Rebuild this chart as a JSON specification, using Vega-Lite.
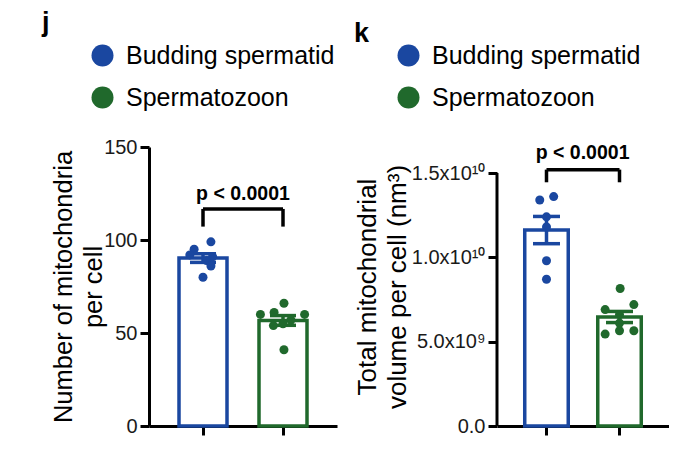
{
  "$schema": "https://vega.github.io/schema/vega-lite/v6.json",
  "background": "white",
  "padding": {"left": 42, "top": 9, "right": 0, "bottom": 0},
  "config": {
    "font": "Liberation Sans",
    "view": {"stroke": null},
    "axis": {"domainColor": "black", "domainWidth": 3, "tickColor": "black", "tickWidth": 3, "tickSize": 9, "labelFontSize": 20, "labelColor": "#1a1a1a", "labelFont": "Liberation Sans", "titleFont": "Liberation Sans", "titleFontSize": 25.5, "titleFontWeight": "normal", "titleColor": "black", "grid": false, "labelPadding": 3},
    "legend": {"labelLimit": 0, "padding": 0},
    "title": {"font": "Liberation Sans"}
  },
  "datasets": {
    "j": [
      {"group": "Budding spermatid", "value": 99, "spread": 0.33},
      {"group": "Budding spermatid", "value": 95, "spread": -0.37},
      {"group": "Budding spermatid", "value": 92, "spread": -0.55},
      {"group": "Budding spermatid", "value": 91, "spread": 0.4},
      {"group": "Budding spermatid", "value": 89, "spread": 0.15},
      {"group": "Budding spermatid", "value": 86, "spread": 0.33},
      {"group": "Budding spermatid", "value": 80, "spread": 0},
      {"group": "Spermatozoon", "value": 66, "spread": 0.04},
      {"group": "Spermatozoon", "value": 61, "spread": -0.37},
      {"group": "Spermatozoon", "value": 60, "spread": -0.94},
      {"group": "Spermatozoon", "value": 60, "spread": 0.9},
      {"group": "Spermatozoon", "value": 57, "spread": 0.33},
      {"group": "Spermatozoon", "value": 55, "spread": 0},
      {"group": "Spermatozoon", "value": 54, "spread": -0.4},
      {"group": "Spermatozoon", "value": 41, "spread": 0.04}
    ],
    "k": [
      {"group": "Budding spermatid", "value": 13400000000, "spread": -0.31},
      {"group": "Budding spermatid", "value": 13600000000, "spread": 0.33},
      {"group": "Budding spermatid", "value": 12400000000, "spread": 0},
      {"group": "Budding spermatid", "value": 11800000000, "spread": 0},
      {"group": "Budding spermatid", "value": 9800000000, "spread": 0},
      {"group": "Budding spermatid", "value": 8700000000, "spread": 0},
      {"group": "Spermatozoon", "value": 8150000000, "spread": 0.03},
      {"group": "Spermatozoon", "value": 6900000000, "spread": -0.66},
      {"group": "Spermatozoon", "value": 7200000000, "spread": 0.66},
      {"group": "Spermatozoon", "value": 6600000000, "spread": 0},
      {"group": "Spermatozoon", "value": 6100000000, "spread": 0},
      {"group": "Spermatozoon", "value": 5450000000, "spread": -0.66},
      {"group": "Spermatozoon", "value": 5650000000, "spread": 0},
      {"group": "Spermatozoon", "value": 5650000000, "spread": 0.66}
    ]
  },
  "spacing": 17,
  "resolve": {"scale": {"color": "independent", "y": "independent", "x": "independent"}, "legend": {"color": "independent"}},
  "hconcat": [
    {
      "width": 188,
      "height": 279,
      "title": {"text": "j", "anchor": "start", "frame": "group", "fontSize": 27, "fontWeight": "bold", "dx": -107, "offset": 6, "color": "black"},
      "data": {"name": "j"},
      "resolve": {"scale": {"xOffset": "independent"}},
      "layer": [
        {
          "transform": [{"aggregate": [{"op": "mean", "field": "value", "as": "mean"}], "groupby": ["group"]}],
          "mark": {"type": "bar", "fill": "white", "filled": false, "strokeWidth": 3.5},
          "encoding": {
            "x": {"field": "group", "type": "nominal", "scale": {"domain": ["Budding spermatid", "Spermatozoon"], "paddingInner": 0.4, "paddingOuter": 0.375}, "axis": {"labels": false, "title": null, "domain": true}},
            "y": {"field": "mean", "type": "quantitative", "scale": {"domain": [0, 150], "nice": false}, "axis": {"values": [0, 50, 100, 150], "title": ["Number of mitochondria", "per cell"], "titleLineHeight": 30, "titlePadding": -3}},
            "color": {"field": "group", "type": "nominal", "scale": {"domain": ["Budding spermatid", "Spermatozoon"], "range": ["#1a47a0", "#20692c"]}}
          }
        },
        {
          "transform": [
            {"aggregate": [{"op": "mean", "field": "value", "as": "mean"}, {"op": "stderr", "field": "value", "as": "se"}], "groupby": ["group"]},
            {"calculate": "datum.mean - datum.se", "as": "lo"},
            {"calculate": "datum.mean + datum.se", "as": "hi"}
          ],
          "layer": [
            {"mark": {"type": "rule", "strokeWidth": 3.5}, "encoding": {"x": {"field": "group", "type": "nominal"}, "y": {"field": "lo", "type": "quantitative"}, "y2": {"field": "hi"}, "color": {"field": "group", "type": "nominal"}}},
            {"mark": {"type": "tick", "orient": "horizontal", "size": 26, "thickness": 3.5, "opacity": 1}, "encoding": {"x": {"field": "group", "type": "nominal"}, "y": {"field": "lo", "type": "quantitative"}, "color": {"field": "group", "type": "nominal"}}},
            {"mark": {"type": "tick", "orient": "horizontal", "size": 26, "thickness": 3.5, "opacity": 1}, "encoding": {"x": {"field": "group", "type": "nominal"}, "y": {"field": "hi", "type": "quantitative"}, "color": {"field": "group", "type": "nominal"}}}
          ]
        },
        {
          "mark": {"type": "point", "filled": true, "opacity": 1, "size": 81, "shape": "circle"},
          "encoding": {
            "x": {"field": "group", "type": "nominal"},
            "xOffset": {"field": "spread", "type": "quantitative", "scale": {"domain": [-1, 1]}},
            "y": {"field": "value", "type": "quantitative"},
            "color": {"field": "group", "type": "nominal", "legend": {"orient": "none", "legendX": -59, "legendY": -104, "title": null, "symbolSize": 484, "symbolType": "circle", "symbolStrokeWidth": 0, "symbolOpacity": 1, "labelFontSize": 25, "labelColor": "black", "labelFont": "Liberation Sans", "rowPadding": 16, "labelOffset": 11, "labelLimit": 0}}
          }
        },
        {
          "data": {"values": [{"g": "Budding spermatid"}, {"g": "Spermatozoon"}]},
          "mark": {"type": "rule", "strokeWidth": 3.5, "color": "black"},
          "encoding": {"x": {"field": "g", "type": "nominal"}, "y": {"datum": 116.7}, "y2": {"datum": 107.2}}
        },
        {
          "data": {"values": [{}]},
          "mark": {"type": "rule", "strokeWidth": 3.5, "color": "black"},
          "encoding": {"x": {"datum": "Budding spermatid"}, "x2": {"datum": "Spermatozoon"}, "y": {"datum": 116.7}}
        },
        {
          "data": {"values": [{}]},
          "mark": {"type": "text", "text": "p < 0.0001", "fontSize": 19.5, "fontWeight": "bold", "align": "center", "baseline": "alphabetic", "color": "black"},
          "encoding": {"x": {"datum": "Budding spermatid", "bandPosition": 1.333}, "y": {"datum": 121.5}}
        }
      ]
    },
    {
      "width": 172,
      "height": 279,
      "title": {"text": "k", "anchor": "start", "frame": "group", "fontSize": 27, "fontWeight": "bold", "dx": -143, "offset": -5, "color": "black"},
      "data": {"name": "k"},
      "resolve": {"scale": {"xOffset": "independent"}},
      "layer": [
        {
          "transform": [{"aggregate": [{"op": "mean", "field": "value", "as": "mean"}], "groupby": ["group"]}],
          "mark": {"type": "bar", "fill": "white", "filled": false, "strokeWidth": 3.5},
          "encoding": {
            "x": {"field": "group", "type": "nominal", "scale": {"domain": ["Budding spermatid", "Spermatozoon"], "paddingInner": 0.404, "paddingOuter": 0.38}, "axis": {"labels": false, "title": null}},
            "y": {"field": "mean", "type": "quantitative", "scale": {"domain": [0, 16542000000], "nice": false}, "axis": {"domain": false, "values": [0, 5000000000, 10000000000, 15000000000], "labelExpr": "datum.value == 0 ? '0.0' : datum.value == 5000000000 ? '5.0x10⁹' : datum.value == 10000000000 ? '1.0x10¹⁰' : '1.5x10¹⁰'", "title": ["Total mitochondrial", "volume per cell (nm³)"], "titleLineHeight": 30, "titlePadding": 1, "titleFontSize": 26}},
            "color": {"field": "group", "type": "nominal", "scale": {"domain": ["Budding spermatid", "Spermatozoon"], "range": ["#1a47a0", "#20692c"]}}
          }
        },
        {
          "data": {"values": [{}]},
          "mark": {"type": "rule", "strokeWidth": 3, "color": "black"},
          "encoding": {"x": {"datum": "Budding spermatid", "bandPosition": -0.6377}, "y": {"datum": 0}, "y2": {"datum": 15000000000}}
        },
        {
          "transform": [
            {"aggregate": [{"op": "mean", "field": "value", "as": "mean"}, {"op": "stderr", "field": "value", "as": "se"}], "groupby": ["group"]},
            {"calculate": "datum.mean - datum.se", "as": "lo"},
            {"calculate": "datum.mean + datum.se", "as": "hi"}
          ],
          "layer": [
            {"mark": {"type": "rule", "strokeWidth": 3.5}, "encoding": {"x": {"field": "group", "type": "nominal"}, "y": {"field": "lo", "type": "quantitative"}, "y2": {"field": "hi"}, "color": {"field": "group", "type": "nominal"}}},
            {"mark": {"type": "tick", "orient": "horizontal", "size": 27, "thickness": 3.5, "opacity": 1}, "encoding": {"x": {"field": "group", "type": "nominal"}, "y": {"field": "lo", "type": "quantitative"}, "color": {"field": "group", "type": "nominal"}}},
            {"mark": {"type": "tick", "orient": "horizontal", "size": 27, "thickness": 3.5, "opacity": 1}, "encoding": {"x": {"field": "group", "type": "nominal"}, "y": {"field": "hi", "type": "quantitative"}, "color": {"field": "group", "type": "nominal"}}}
          ]
        },
        {
          "mark": {"type": "point", "filled": true, "opacity": 1, "size": 81, "shape": "circle"},
          "encoding": {
            "x": {"field": "group", "type": "nominal"},
            "xOffset": {"field": "spread", "type": "quantitative", "scale": {"domain": [-1, 1]}},
            "y": {"field": "value", "type": "quantitative"},
            "color": {"field": "group", "type": "nominal", "legend": {"orient": "none", "legendX": -101, "legendY": -104, "title": null, "symbolSize": 484, "symbolType": "circle", "symbolStrokeWidth": 0, "symbolOpacity": 1, "labelFontSize": 25, "labelColor": "black", "labelFont": "Liberation Sans", "rowPadding": 16, "labelOffset": 11, "labelLimit": 0}}
          }
        },
        {
          "data": {"values": [{"g": "Budding spermatid"}, {"g": "Spermatozoon"}]},
          "mark": {"type": "rule", "strokeWidth": 3.5, "color": "black"},
          "encoding": {"x": {"field": "g", "type": "nominal"}, "y": {"datum": 15200000000}, "y2": {"datum": 14450000000}}
        },
        {
          "data": {"values": [{}]},
          "mark": {"type": "rule", "strokeWidth": 3.5, "color": "black"},
          "encoding": {"x": {"datum": "Budding spermatid"}, "x2": {"datum": "Spermatozoon"}, "y": {"datum": 15200000000}}
        },
        {
          "data": {"values": [{}]},
          "mark": {"type": "text", "text": "p < 0.0001", "fontSize": 19.5, "fontWeight": "bold", "align": "center", "baseline": "alphabetic", "color": "black"},
          "encoding": {"x": {"datum": "Budding spermatid", "bandPosition": 1.33}, "y": {"datum": 15850000000}}
        }
      ]
    }
  ]
}
